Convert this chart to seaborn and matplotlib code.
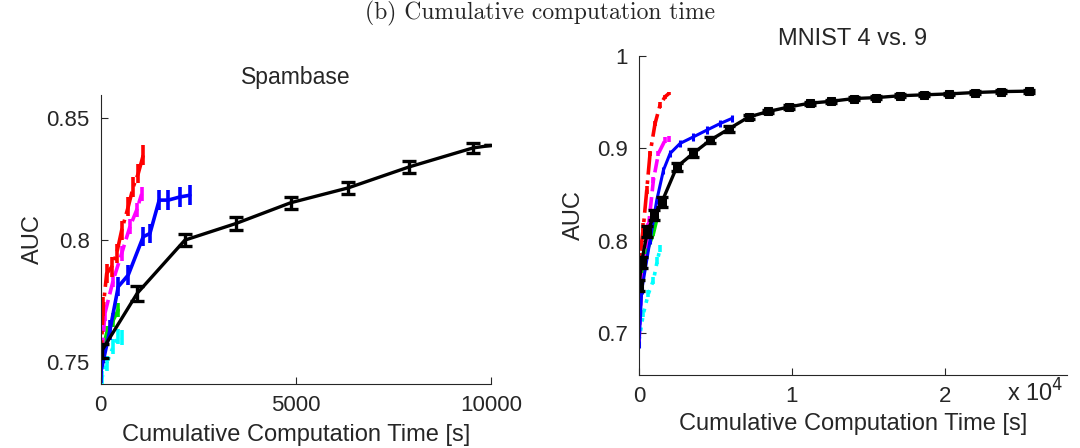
import numpy as np
import pandas as pd
import matplotlib
matplotlib.use('Agg')
import matplotlib.pyplot as plt
import seaborn as sns

# ---- Spambase (left) ----
sp_black_x = [25, 937, 2158, 3464, 4864, 6339, 7900, 9539, 9990]
sp_black_y = [0.7545, 0.7782, 0.8000, 0.8068, 0.8153, 0.8214, 0.8300, 0.8378, 0.8388]
sp_black_e = [0.003, 0.003, 0.0025, 0.0025, 0.0025, 0.0025, 0.0025, 0.0022, 0.0]

sp_red_x = [0, 67, 154, 282, 410, 538, 707, 835, 963, 1091]
sp_red_y = [0.7495, 0.7727, 0.7863, 0.7890, 0.7945, 0.8040, 0.8137, 0.8218, 0.8273, 0.8348]
sp_red_e = [0.004, 0.004, 0.004, 0.004, 0.004, 0.004, 0.004, 0.004, 0.004, 0.004]

sp_mag_x = [0, 110, 323, 538, 750, 922, 1050]
sp_mag_y = [0.7467, 0.7700, 0.7836, 0.7945, 0.8055, 0.8123, 0.8189]
sp_mag_e = [0.003, 0.003, 0.003, 0.003, 0.003, 0.003, 0.003]

sp_blue_x = [0, 238, 451, 707, 1091, 1262, 1500, 1731, 2030, 2286]
sp_blue_y = [0.7455, 0.7631, 0.7809, 0.7857, 0.8014, 0.8027, 0.8164, 0.8164, 0.8177, 0.8184]
sp_blue_e = [0.004, 0.004, 0.004, 0.004, 0.004, 0.004, 0.004, 0.004, 0.004, 0.004]

sp_green_x = [25, 154, 323, 451]
sp_green_y = [0.7536, 0.7618, 0.7672, 0.7713]
sp_green_e = [0.003, 0.003, 0.003, 0.003]

sp_cyan_x = [25, 154, 323, 451, 538]
sp_cyan_y = [0.7433, 0.7495, 0.7563, 0.7604, 0.7600]
sp_cyan_e = [0.003, 0.003, 0.003, 0.003, 0.003]

# ---- MNIST 4 vs. 9 (right) ----
mn_black_x = [0, 170, 540, 1000, 1490, 2470, 3560, 4660, 5860, 7170, 8450, 9840,
              11170, 12570, 14050, 15520, 17050, 18620, 20260, 21950, 23670, 25530]
mn_black_y = [0.752, 0.777, 0.810, 0.828, 0.842, 0.880, 0.895, 0.909, 0.921, 0.934, 0.940, 0.945,
              0.949, 0.951, 0.954, 0.955, 0.957, 0.958, 0.959, 0.9605, 0.9615, 0.962]
mn_black_e = [0.006, 0.006, 0.006, 0.005, 0.005, 0.004, 0.004, 0.003, 0.003, 0.002, 0.002, 0.002,
              0.0015, 0.0015, 0.0015, 0.0015, 0.0015, 0.0015, 0.0015, 0.0015, 0.0015, 0.0015]

mn_red_x = [0, 66, 282, 505, 721, 1049, 1377, 1705, 1967]
mn_red_y = [0.748, 0.7827, 0.815, 0.855, 0.8946, 0.927, 0.947, 0.956, 0.9596]
mn_red_e = [0.004, 0.004, 0.004, 0.004, 0.003, 0.003, 0.003, 0.002, 0.002]

mn_mag_x = [0, 175, 612, 940, 1268, 1705, 1967]
mn_mag_y = [0.6888, 0.7538, 0.815, 0.8657, 0.8946, 0.909, 0.910]
mn_mag_e = [0.004, 0.004, 0.004, 0.003, 0.003, 0.003, 0.003]

mn_blue_x = [0, 175, 721, 1159, 1596, 2033, 2689, 3563, 4440, 5311, 6079]
mn_blue_y = [0.688, 0.7466, 0.8007, 0.844, 0.8765, 0.8946, 0.9055, 0.9126, 0.9199, 0.927, 0.9325]
mn_blue_e = [0.004, 0.004, 0.004, 0.004, 0.004, 0.004, 0.004, 0.004, 0.004, 0.004, 0.004]

mn_green_x = [0, 175, 612, 940, 1200]
mn_green_y = [0.7393, 0.7646, 0.7935, 0.808, 0.826]
mn_green_e = [0.003, 0.003, 0.003, 0.003, 0.003]

mn_cyan_x = [0, 282, 612, 940, 1200, 1377]
mn_cyan_y = [0.6924, 0.7213, 0.743, 0.7574, 0.779, 0.7917]
mn_cyan_e = [0.004, 0.004, 0.004, 0.004, 0.004, 0.004]

sns.set_style('ticks')
plt.rcParams['font.family'] = ['Liberation Sans', 'DejaVu Sans']

fig = plt.figure(figsize=(10.8, 4.48), dpi=100)
ax1 = fig.add_axes([0.0932, 0.1429, 0.3614, 0.645])
ax2 = fig.add_axes([0.5917, 0.1629, 0.3963, 0.7121])


def draw(ax, x, y, e, color, ls, lw=2.6, cap=0, marker=None):
    df = pd.DataFrame({'x': x, 'y': y})
    sns.lineplot(data=df, x='x', y='y', ax=ax, color=color, linestyle=ls, lw=lw,
                 estimator=None, sort=False, marker=marker, markersize=6,
                 markeredgecolor=color)
    ax.errorbar(x, y, yerr=e, fmt='none', ecolor=color, elinewidth=lw,
                capsize=cap, capthick=lw)


# left panel
draw(ax1, sp_cyan_x, sp_cyan_y, sp_cyan_e, 'cyan', ':')
draw(ax1, sp_green_x, sp_green_y, sp_green_e, '#00dd00', '-')
draw(ax1, sp_mag_x, sp_mag_y, sp_mag_e, 'magenta', '--')
draw(ax1, sp_red_x, sp_red_y, sp_red_e, 'red', '-.')
draw(ax1, sp_blue_x, sp_blue_y, sp_blue_e, 'blue', '-')
draw(ax1, sp_black_x, sp_black_y, sp_black_e, 'black', '-', lw=2.4, cap=5)

ax1.set_xlim(0, 10000)
ax1.set_ylim(0.741, 0.8595)
ax1.set_xticks([0, 5000, 10000])
ax1.set_yticks([0.75, 0.8, 0.85])
ax1.set_yticklabels(['0.75', '0.8', '0.85'])
ax1.set_title('Spambase', fontsize=16.5, pad=8)

# right panel
draw(ax2, mn_cyan_x, mn_cyan_y, mn_cyan_e, 'cyan', ':')
draw(ax2, mn_green_x, mn_green_y, mn_green_e, '#00dd00', '-')
draw(ax2, mn_mag_x, mn_mag_y, mn_mag_e, 'magenta', '--')
draw(ax2, mn_red_x, mn_red_y, mn_red_e, 'red', '-.')
draw(ax2, mn_blue_x, mn_blue_y, mn_blue_e, 'blue', '-', lw=2.2)
draw(ax2, mn_black_x, mn_black_y, mn_black_e, 'black', '-', lw=2.4, cap=4, marker='s')

ax2.set_xlim(0, 28000)
ax2.set_ylim(0.655, 1.0)
ax2.set_xticks([0, 10000, 20000])
ax2.set_xticklabels(['0', '1', '2'])
ax2.set_yticks([0.7, 0.8, 0.9, 1.0])
ax2.set_yticklabels(['0.7', '0.8', '0.9', '1'])
ax2.set_title('MNIST 4 vs. 9', fontsize=17, pad=8)
ax2.text(0.86, -0.015, r'x 10$^{4}$', transform=ax2.transAxes, fontsize=17,
         va='top', ha='left')

for ax in (ax1, ax2):
    sns.despine(ax=ax)
    ax.tick_params(direction='in', length=5, labelsize=16, pad=8)
    ax.set_ylabel('AUC', fontsize=17, labelpad=6)
ax1.set_xlabel('Cumulative Computation Time [s]', fontsize=17, labelpad=6)
ax2.set_xlabel('Cumulative Computation Time [s]', fontsize=17, labelpad=4)
ax1.yaxis.labelpad = 2
ax2.yaxis.labelpad = 9

fig.text(0.5, 1 - 1 / 448, '(b) Cumulative computation time', family='cmr10',
         fontsize=17, ha='center', va='top')

fig.savefig('out.png', dpi=100)
